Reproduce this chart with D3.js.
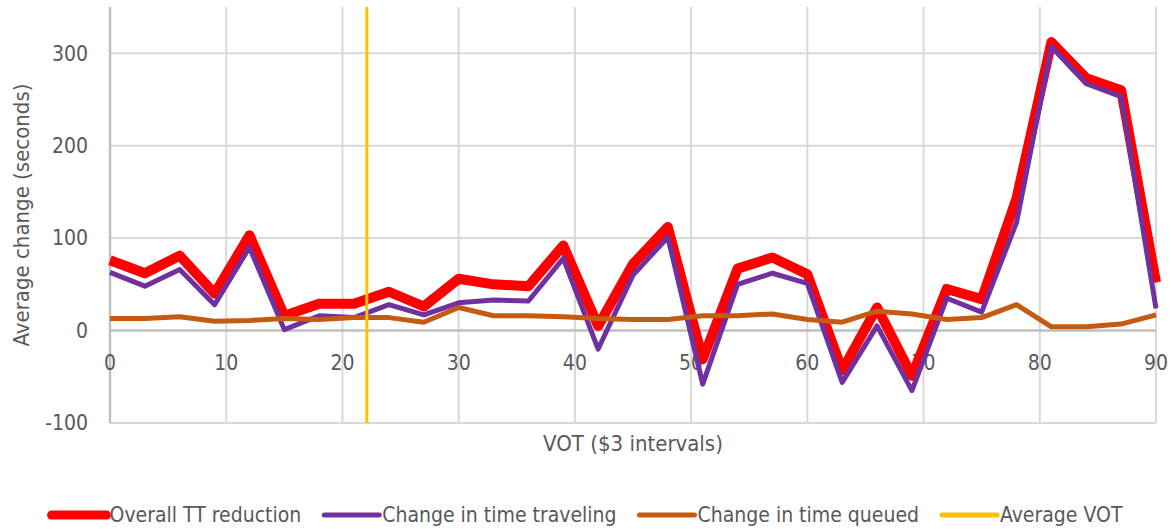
<!DOCTYPE html>
<html>
<head>
<meta charset="utf-8">
<script src="https://cdn.jsdelivr.net/npm/d3@7"></script>
<style>
  body { margin: 0; background: #fff; }
  text { font-family: "Liberation Sans Narrow", "DejaVu Sans Condensed", sans-serif; fill: #595959; }
</style>
</head>
<body>
<div id="chart"></div>
<script>
// VOT buckets ($3 intervals)
const vot = [0, 3, 6, 9, 12, 15, 18, 21, 24, 27, 30, 33, 36, 39, 42, 45, 48, 51, 54, 57, 60, 63, 66, 69, 72, 75, 78, 81, 84, 87, 90]
const overallTT = [76, 62, 81, 40, 103, 16, 29, 29, 42, 26, 56, 50, 48, 92, 5, 72, 112, -31, 67, 79, 61, -43, 25, -49, 45, 34, 143, 312, 273, 260, 52]
const timeTraveling = [63, 48, 66, 28, 90, 1, 16, 14, 28, 17, 30, 33, 32, 78, -20, 60, 101, -58, 50, 62, 51, -56, 5, -65, 35, 20, 117, 307, 267, 253, 24]
const timeQueued = [13, 13, 15, 10, 11, 13, 12, 14, 14, 9, 25, 16, 16, 15, 13, 12, 12, 16, 16, 18, 12, 9, 21, 18, 12, 14, 28, 4, 4, 7, 17]
const avgVOT = 22.1
const avgVOTSpan = [-100, 350]
const xTicks = [0, 10, 20, 30, 40, 50, 60, 70, 80, 90]
const yTicks = [-100, 0, 100, 200, 300]

var width = 1171;
var height = 529;
var margin = { top: 7, right: 15, bottom: 106, left: 110 };
var w = width - margin.left - margin.right;
var h = height - margin.top - margin.bottom;

var svg = d3.select("#chart").append("svg")
  .attr("width", width)
  .attr("height", height)

var x = d3.scaleLinear().domain([0, 90]).range([0, w])
var y = d3.scaleLinear().domain([-100, 350]).range([h, 0])

var g = svg.append("g").attr("transform", "translate(" + margin.left + "," + margin.top + ")")

// gridlines
g.selectAll(".hgrid")
  .data(yTicks.filter(d => d !== 0))
  .enter().append("line")
  .attr("x1", 0).attr("x2", w)
  .attr("y1", d => y(d)).attr("y2", d => y(d))
  .attr("stroke", "#D9D9D9").attr("stroke-width", 2)
g.selectAll(".vgrid")
  .data(xTicks.filter(d => d !== 0))
  .enter().append("line")
  .attr("x1", d => x(d)).attr("x2", d => x(d))
  .attr("y1", 0).attr("y2", h)
  .attr("stroke", "#D9D9D9").attr("stroke-width", 2)

// axis lines
g.append("line")
  .attr("x1", x(0)).attr("x2", x(0)).attr("y1", 0).attr("y2", h)
  .attr("stroke", "#BFBFBF").attr("stroke-width", 2.5)
g.append("line")
  .attr("x1", 0).attr("x2", w).attr("y1", y(0)).attr("y2", y(0))
  .attr("stroke", "#BFBFBF").attr("stroke-width", 2.5)

// tick labels
g.selectAll(".ylab")
  .data(yTicks)
  .enter().append("text")
  .attr("x", -22)
  .attr("y", d => y(d))
  .attr("dy", "0.35em")
  .attr("text-anchor", "end")
  .style("font-size", "21px")
  .text(d => d)
g.selectAll(".xlab")
  .data(xTicks)
  .enter().append("text")
  .attr("x", d => x(d))
  .attr("y", y(0) + 39)
  .attr("text-anchor", "middle")
  .style("font-size", "21px")
  .text(d => d)

// axis titles
svg.append("text")
  .attr("transform", "translate(29," + (margin.top + y(125)) + ") rotate(-90)")
  .attr("text-anchor", "middle")
  .style("font-size", "22px")
  .text("Average change (seconds)")
svg.append("text")
  .attr("x", margin.left + w / 2)
  .attr("y", 451)
  .attr("text-anchor", "middle")
  .style("font-size", "22px")
  .text("VOT ($3 intervals)")

// series
var series = [
  { name: "Overall TT reduction", values: overallTT, color: "#FF0000", width: 10 },
  { name: "Change in time traveling", values: timeTraveling, color: "#7030A0", width: 5 },
  { name: "Change in time queued", values: timeQueued, color: "#C55A11", width: 5 }
]
var line = d3.line().x(d => x(d[0])).y(d => y(d[1]))
series.forEach(s => {
  g.append("path")
    .datum(vot.map((v, i) => [v, s.values[i]]))
    .attr("d", line)
    .attr("fill", "none")
    .attr("stroke", s.color)
    .attr("stroke-width", s.width)
    .attr("stroke-linejoin", "round")
})
g.append("path")
  .datum(avgVOTSpan.map(v => [avgVOT, v]))
  .attr("d", line)
  .attr("fill", "none")
  .attr("stroke", "#FFC000")
  .attr("stroke-width", 3)

// legend
var legendItems = series.concat([{ name: "Average VOT", color: "#FFC000", width: 5 }])
var legend = svg.append("g")
var lx = 0
legendItems.forEach((s, i) => {
  var item = legend.append("g").attr("transform", "translate(" + lx + ",0)")
  item.append("line")
    .attr("x1", 3).attr("x2", 58).attr("y1", 0).attr("y2", 0)
    .attr("stroke", s.color).attr("stroke-width", s.width === 10 ? 9 : 5)
    .attr("stroke-linecap", "round")
  var t = item.append("text")
    .attr("x", 61).attr("y", 0).attr("dy", "0.35em")
    .style("font-size", "21px")
    .text(s.name)
  lx += 61 + t.node().getComputedTextLength() + 20
})
lx -= 20
legend.attr("transform", "translate(" + ((width - lx) / 2) + ",515)")
</script>
</body>
</html>
